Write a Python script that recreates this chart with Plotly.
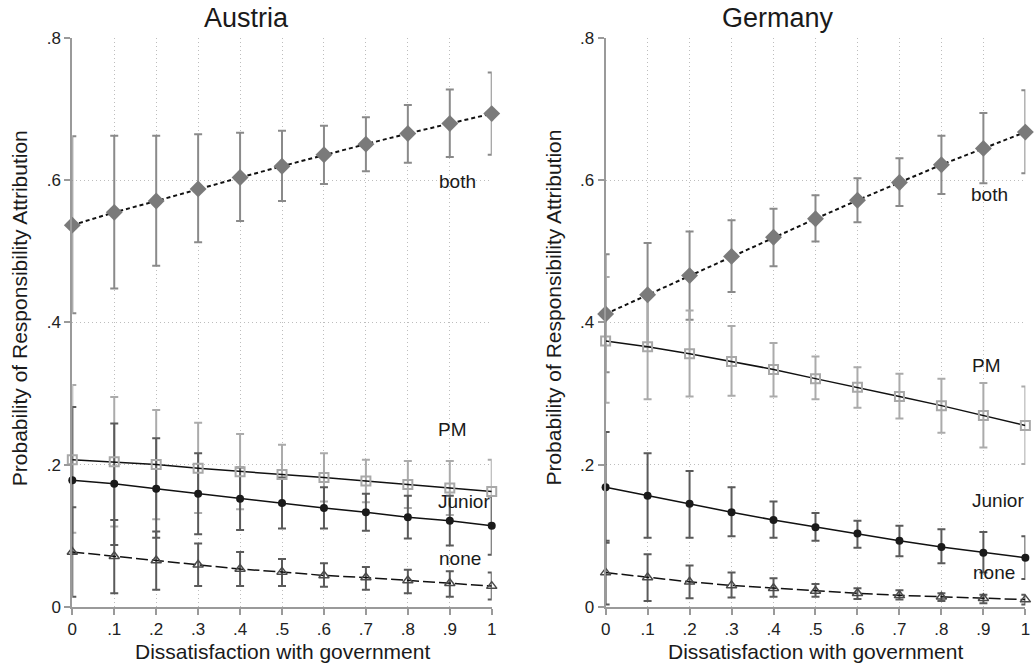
import plotly.graph_objects as go

x_vals = [0, 0.1, 0.2, 0.3, 0.4, 0.5, 0.6, 0.7, 0.8, 0.9, 1.0]
x_ticktext = ["0", ".1", ".2", ".3", ".4", ".5", ".6", ".7", ".8", ".9", "1"]
y_tickvals = [0, 0.2, 0.4, 0.6, 0.8]
y_ticktext = ["0", ".2", ".4", ".6", ".8"]
panels = ["Austria", "Germany"]

# Austria
aut_both = [0.537, 0.555, 0.571, 0.588, 0.604, 0.620, 0.636, 0.651, 0.666, 0.680, 0.694]
aut_both_lo = [0.413, 0.448, 0.480, 0.513, 0.543, 0.571, 0.595, 0.613, 0.625, 0.633, 0.636]
aut_both_hi = [0.662, 0.663, 0.663, 0.665, 0.667, 0.670, 0.677, 0.689, 0.706, 0.728, 0.752]
aut_pm = [0.207, 0.204, 0.200, 0.195, 0.190, 0.186, 0.182, 0.177, 0.172, 0.167, 0.162]
aut_pm_lo = [0.104, 0.113, 0.123, 0.132, 0.137, 0.144, 0.148, 0.147, 0.139, 0.129, 0.117]
aut_pm_hi = [0.312, 0.295, 0.277, 0.259, 0.243, 0.228, 0.216, 0.207, 0.205, 0.205, 0.207]
aut_jr = [0.178, 0.173, 0.166, 0.159, 0.152, 0.146, 0.139, 0.133, 0.126, 0.121, 0.114]
aut_jr_lo = [0.075, 0.087, 0.097, 0.102, 0.108, 0.110, 0.110, 0.107, 0.096, 0.086, 0.073]
aut_jr_hi = [0.281, 0.258, 0.237, 0.216, 0.196, 0.182, 0.168, 0.159, 0.156, 0.156, 0.155]
aut_none = [0.077, 0.071, 0.065, 0.059, 0.053, 0.049, 0.044, 0.041, 0.037, 0.033, 0.029]
aut_none_lo = [0.014, 0.019, 0.024, 0.029, 0.029, 0.029, 0.028, 0.024, 0.019, 0.014, 0.010]
aut_none_hi = [0.140, 0.122, 0.106, 0.089, 0.077, 0.067, 0.061, 0.056, 0.052, 0.050, 0.048]

# Germany
deu_both = [0.412, 0.439, 0.466, 0.493, 0.520, 0.546, 0.572, 0.597, 0.622, 0.645, 0.668]
deu_both_lo = [0.330, 0.366, 0.404, 0.443, 0.479, 0.514, 0.541, 0.564, 0.581, 0.596, 0.610]
deu_both_hi = [0.496, 0.512, 0.528, 0.544, 0.560, 0.579, 0.603, 0.631, 0.663, 0.695, 0.727]
deu_pm = [0.374, 0.366, 0.356, 0.345, 0.334, 0.321, 0.309, 0.296, 0.283, 0.269, 0.255]
deu_pm_lo = [0.287, 0.292, 0.296, 0.297, 0.296, 0.292, 0.280, 0.265, 0.245, 0.224, 0.201]
deu_pm_hi = [0.464, 0.440, 0.417, 0.395, 0.371, 0.352, 0.337, 0.328, 0.321, 0.315, 0.310]
deu_jr = [0.168, 0.156, 0.145, 0.133, 0.122, 0.112, 0.103, 0.093, 0.084, 0.076, 0.069]
deu_jr_lo = [0.090, 0.097, 0.097, 0.099, 0.097, 0.093, 0.083, 0.071, 0.061, 0.048, 0.039]
deu_jr_hi = [0.246, 0.216, 0.191, 0.168, 0.148, 0.132, 0.121, 0.114, 0.109, 0.105, 0.099]
deu_none = [0.048, 0.041, 0.035, 0.030, 0.026, 0.022, 0.019, 0.016, 0.014, 0.012, 0.010]
deu_none_lo = [0.003, 0.008, 0.012, 0.013, 0.014, 0.014, 0.011, 0.010, 0.008, 0.005, 0.003]
deu_none_hi = [0.093, 0.074, 0.058, 0.048, 0.040, 0.032, 0.026, 0.023, 0.019, 0.017, 0.017]

series_labels = ["both", "PM", "Junior", "none"]
aut_label_pos = [(0.918, 0.598), (0.907, 0.249), (0.934, 0.148), (0.925, 0.068)]
deu_label_pos = [(0.915, 0.580), (0.907, 0.339), (0.936, 0.149), (0.925, 0.048)]

FONT = "Liberation Sans, Arial, Helvetica, sans-serif"
W, H = 1036, 667

styles = {
    "both": dict(line=dict(color="#111", width=2, dash="4px,3px"),
                 marker=dict(symbol="diamond", size=13, color="#7a7a7a", line=dict(width=0)),
                 err="#8a8a8a"),
    "PM": dict(line=dict(color="#111", width=1.5),
               marker=dict(symbol="square-open", size=9, color="#a8a8a8", line=dict(width=2)),
               err="#ababab"),
    "Junior": dict(line=dict(color="#111", width=1.5),
                   marker=dict(symbol="circle", size=8, color="#1a1a1a"),
                   err="#5a5a5a"),
    "none": dict(line=dict(color="#111", width=1.5, dash="12px,4px"),
                 marker=dict(symbol="triangle-up-open", size=9, color="#4a4a4a", line=dict(width=1.5)),
                 err="#5a5a5a"),
}

fig = go.Figure()

data = {
    "Austria": [(aut_both, aut_both_lo, aut_both_hi), (aut_pm, aut_pm_lo, aut_pm_hi),
                (aut_jr, aut_jr_lo, aut_jr_hi), (aut_none, aut_none_lo, aut_none_hi)],
    "Germany": [(deu_both, deu_both_lo, deu_both_hi), (deu_pm, deu_pm_lo, deu_pm_hi),
                (deu_jr, deu_jr_lo, deu_jr_hi), (deu_none, deu_none_lo, deu_none_hi)],
}

for pi, panel in enumerate(panels):
    xa = "x" if pi == 0 else "x2"
    ya = "y" if pi == 0 else "y2"
    for name, (v, lo, hi) in zip(series_labels, data[panel]):
        st = styles[name]
        fig.add_trace(go.Scatter(
            x=x_vals, y=v, mode="markers", xaxis=xa, yaxis=ya,
            marker=dict(size=0.1, color="rgba(0,0,0,0)"),
            error_y=dict(type="data", symmetric=False,
                         array=[h - m for h, m in zip(hi, v)],
                         arrayminus=[m - l for m, l in zip(v, lo)],
                         color=st["err"], thickness=2, width=4),
            showlegend=False, hoverinfo="skip", cliponaxis=False))
    for name, (v, lo, hi) in zip(series_labels, data[panel]):
        st = styles[name]
        fig.add_trace(go.Scatter(
            x=x_vals, y=v, mode="lines+markers", xaxis=xa, yaxis=ya,
            line=st["line"], marker=st["marker"], name=name,
            showlegend=False, cliponaxis=False))

x_domains = [[0.0656, 0.4744], [0.5854, 0.9945]]
y_domain = [0.0776, 0.9548]

axis_common = dict(showline=True, linecolor="#9a9a9a", linewidth=2,
                   ticks="outside", ticklen=6, tickcolor="#9a9a9a", tickwidth=1.5,
                   tickfont=dict(family=FONT, size=17, color="#222"),
                   showgrid=True, gridcolor="#bdbdbd", griddash="1px,3px", gridwidth=1,
                   zeroline=False, mirror=False)

layout = dict(
    width=W, height=H, margin=dict(l=0, r=0, t=0, b=0),
    paper_bgcolor="white", plot_bgcolor="white", showlegend=False,
    font=dict(family=FONT, color="#222"),
)
for pi in range(2):
    sx = "xaxis" if pi == 0 else "xaxis2"
    sy = "yaxis" if pi == 0 else "yaxis2"
    layout[sx] = dict(axis_common, domain=x_domains[pi], range=[0, 1],
                      tickvals=x_vals, ticktext=x_ticktext,
                      anchor="y" if pi == 0 else "y2")
    layout[sy] = dict(axis_common, domain=y_domain, range=[0, 0.8],
                      tickvals=y_tickvals, ticktext=y_ticktext,
                      anchor="x" if pi == 0 else "x2")
fig.update_layout(**layout)

ann = []
title_x = [0.2350, 0.7538]
ytitle_x = [0.0140, 0.5348]
xtitle_x = [0.2700, 0.7898]
for pi, panel in enumerate(panels):
    ann.append(dict(text=panel, x=title_x[pi], y=0.9868, xref="paper", yref="paper",
                    showarrow=False, font=dict(family=FONT, size=27, color="#1a1a1a"),
                    xanchor="center", yanchor="middle"))
    ann.append(dict(text="Probability of Responsibility Attribution", x=ytitle_x[pi],
                    y=0.5388, xref="paper", yref="paper", textangle=-90,
                    showarrow=False, font=dict(family=FONT, size=21, color="#1a1a1a"),
                    xanchor="center", yanchor="middle"))
    ann.append(dict(text="Dissatisfaction with government", x=xtitle_x[pi],
                    y=0.0078, xref="paper", yref="paper",
                    showarrow=False, font=dict(family=FONT, size=21, color="#1a1a1a"),
                    xanchor="center", yanchor="middle"))
    pos = aut_label_pos if pi == 0 else deu_label_pos
    for lab, (lx, ly) in zip(series_labels, pos):
        ann.append(dict(text=lab, x=lx, y=ly, xref="x" if pi == 0 else "x2",
                        yref="y" if pi == 0 else "y2", showarrow=False,
                        font=dict(family=FONT, size=19, color="#1a1a1a"),
                        xanchor="center", yanchor="middle"))
fig.update_layout(annotations=ann)

fig.write_html("out.html", config={"displayModeBar": False},
               post_script="document.body.style.margin='0';document.body.style.overflow='hidden';")
